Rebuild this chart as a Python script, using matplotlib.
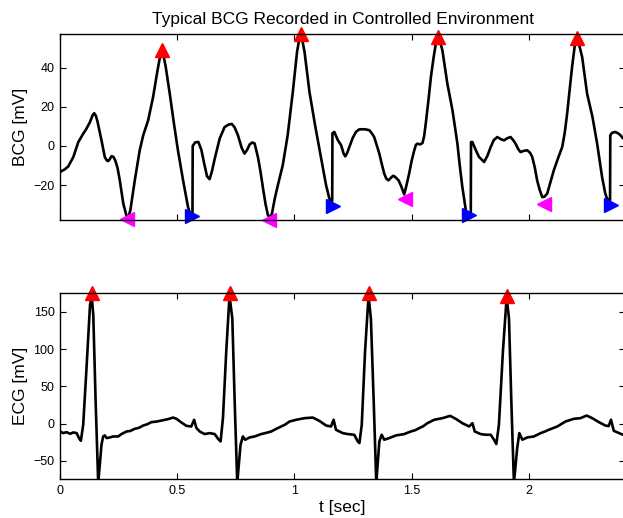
import numpy as np
import matplotlib
matplotlib.use("Agg")
import matplotlib.pyplot as plt

plt.rcParams["font.family"] = ["Liberation Sans", "DejaVu Sans"]

# BCG trace (t in sec, value in mV)
bcg_t = [0.000, 0.020, 0.035, 0.057, 0.078, 0.099, 0.113, 0.128, 0.140, 0.146,
         0.153, 0.160, 0.177, 0.191, 0.200, 0.206, 0.212, 0.220, 0.228, 0.236,
         0.245, 0.255, 0.270, 0.284, 0.292, 0.300, 0.319, 0.340, 0.355, 0.376,
         0.397, 0.416, 0.427, 0.434, 0.442, 0.451, 0.468, 0.486, 0.503, 0.525,
         0.546, 0.557, 0.565, 0.566, 0.576, 0.590, 0.603, 0.615, 0.627, 0.638,
         0.648, 0.660, 0.681, 0.702, 0.720, 0.733, 0.745, 0.759, 0.775, 0.787,
         0.798, 0.809, 0.820, 0.830, 0.844, 0.855, 0.866, 0.877, 0.887, 0.895,
         0.904, 0.916, 0.929, 0.950, 0.971, 0.993, 1.011, 1.020, 1.026, 1.033,
         1.043, 1.064, 1.088, 1.114, 1.135, 1.149, 1.158, 1.161, 1.162, 1.170,
         1.185, 1.199, 1.210, 1.217, 1.225, 1.234, 1.248, 1.262, 1.276, 1.291,
         1.305, 1.319, 1.330, 1.340, 1.352, 1.362, 1.372, 1.383, 1.392, 1.401,
         1.412, 1.420, 1.426, 1.435, 1.444, 1.455, 1.468, 1.476, 1.489, 1.500,
         1.511, 1.518, 1.525, 1.535, 1.546, 1.553, 1.560, 1.571, 1.582, 1.593,
         1.603, 1.614, 1.622, 1.631, 1.652, 1.674, 1.695, 1.705, 1.716, 1.731,
         1.742, 1.752, 1.753, 1.759, 1.773, 1.787, 1.809, 1.823, 1.837, 1.850,
         1.865, 1.880, 1.894, 1.908, 1.922, 1.933, 1.943, 1.954, 1.964, 1.978,
         1.993, 2.005, 2.014, 2.025, 2.035, 2.046, 2.057, 2.066, 2.078, 2.092,
         2.106, 2.125, 2.142, 2.153, 2.163, 2.175, 2.184, 2.195, 2.203, 2.212,
         2.227, 2.248, 2.271, 2.291, 2.312, 2.325, 2.333, 2.342, 2.346, 2.347,
         2.355, 2.369, 2.380, 2.391, 2.400]
bcg_v = [-13.3, -12.0, -10.5, -5.6, 2.0, 6.3, 8.9, 12.3, 16.0, 16.8,
         15.5, 12.5, 2.9, -5.6, -7.5, -7.7, -6.8, -5.2, -5.6, -7.5,
         -11.0, -17.6, -29.5, -36.0, -36.2, -33.0, -17.6, -2.2, 5.5, 13.2,
         25.1, 38.8, 46.0, 48.5, 46.0, 40.5, 26.9, 11.5, -2.2, -17.6,
         -31.3, -35.5, -36.0, 0.0, 1.8, 2.1, -2.0, -9.0, -15.5, -17.0,
         -13.0, -6.5, 3.8, 9.7, 11.0, 11.3, 9.5, 5.5, -1.0, -3.9,
         -2.0, 0.8, 1.8, 1.3, -5.6, -13.0, -21.8, -30.0, -35.5, -36.5,
         -34.7, -27.0, -20.2, -9.9, 5.5, 27.7, 48.2, 54.5, 56.5, 54.5,
         48.2, 27.7, 10.6, -6.5, -20.2, -27.0, -28.2, -28.0, 6.5, 7.2,
         3.0, 0.4, -4.0, -5.3, -3.5, -0.5, 4.0, 7.2, 8.5, 8.6,
         8.5, 8.1, 6.5, 4.6, 0.0, -3.9, -9.0, -14.2, -16.8, -17.6,
         -16.2, -15.3, -15.5, -16.5, -17.6, -20.5, -24.8, -21.0, -14.2, -7.5,
         -2.2, 0.6, 1.2, 0.8, 1.5, 5.0, 11.5, 23.0, 35.4, 45.0,
         52.5, 56.0, 53.0, 49.0, 32.0, 18.3, 1.2, -10.0, -21.0, -33.0,
         -36.0, -36.5, 2.0, 2.0, -2.0, -5.6, -8.2, -5.0, -0.5, 3.0,
         4.6, 3.5, 2.9, 4.0, 4.6, 3.0, 1.2, -1.5, -3.1, -2.5,
         -2.2, -3.5, -5.6, -11.0, -17.6, -22.5, -26.2, -26.0, -24.4, -18.5,
         -12.5, -6.0, -0.5, 7.0, 16.6, 30.0, 40.5, 51.0, 55.5, 53.0,
         45.6, 26.9, 14.9, 1.2, -15.9, -24.0, -27.0, -28.0, -28.0, 5.5,
         6.8, 7.2, 6.5, 5.5, 4.0]

# BCG fiducial points
bcg_peak_t = [0.434, 1.028, 1.614, 2.203]
bcg_peak_v = [49.0, 57.5, 56.0, 55.5]
bcg_onset_t = [0.284, 0.892, 1.471, 2.064]
bcg_onset_v = [-37.2, -38.0, -27.3, -29.5]
bcg_end_t = [0.562, 1.165, 1.745, 2.349]
bcg_end_v = [-36.0, -31.0, -35.5, -30.4]

# ECG trace
ecg_t = [0.000, 0.014, 0.028, 0.043, 0.057, 0.071, 0.081, 0.089, 0.099, 0.113,
         0.128, 0.135, 0.142, 0.152, 0.163, 0.177, 0.184, 0.191, 0.199, 0.213,
         0.227, 0.248, 0.262, 0.284, 0.300, 0.319, 0.335, 0.355, 0.372, 0.390,
         0.410, 0.433, 0.461, 0.482, 0.497, 0.518, 0.539, 0.560, 0.572, 0.582,
         0.596, 0.617, 0.638, 0.660, 0.674, 0.685, 0.695, 0.709, 0.723, 0.735,
         0.745, 0.756, 0.770, 0.780, 0.790, 0.809, 0.830, 0.858, 0.880, 0.901,
         0.920, 0.943, 0.960, 0.979, 1.007, 1.043, 1.078, 1.106, 1.135, 1.156,
         1.167, 1.177, 1.206, 1.227, 1.255, 1.270, 1.277, 1.287, 1.301, 1.316,
         1.326, 1.338, 1.349, 1.362, 1.372, 1.383, 1.404, 1.433, 1.468, 1.496,
         1.515, 1.532, 1.550, 1.567, 1.596, 1.631, 1.664, 1.688, 1.716, 1.745,
         1.759, 1.769, 1.794, 1.816, 1.837, 1.851, 1.861, 1.872, 1.889, 1.905,
         1.915, 1.925, 1.936, 1.950, 1.959, 1.972, 1.993, 2.021, 2.050, 2.070,
         2.085, 2.105, 2.121, 2.156, 2.191, 2.220, 2.246, 2.270, 2.298, 2.326,
         2.340, 2.350, 2.362, 2.400]
ecg_v = [-10.7, -12.9, -11.6, -13.8, -12.0, -12.9, -19.6, -23.2, -1.7, 74.0,
         159.0, 172.0, 145.7, 29.5, -80.0, -28.6, -17.4, -16.0, -19.6, -18.7,
         -17.4, -17.4, -14.2, -10.7, -10.0, -7.1, -6.0, -2.7, -1.0, 1.9,
         2.5, 4.0, 5.9, 8.0, 6.3, 1.3, -3.1, -4.0, 5.0, -6.2,
         -10.7, -14.2, -12.9, -14.2, -20.5, -24.1, 7.2, 96.5, 172.0, 141.0,
         29.5, -80.0, -28.6, -17.4, -21.8, -18.7, -17.4, -14.2, -12.5, -10.7,
         -7.5, -4.0, -1.5, 2.7, 5.0, 7.2, 8.0, 3.6, -2.7, -4.0,
         5.0, -8.4, -12.9, -14.2, -15.1, -24.1, -26.3, -1.7, 96.5, 172.0,
         141.0, 29.5, -80.0, -24.1, -15.1, -21.8, -19.6, -16.0, -14.2, -10.7,
         -9.0, -6.2, -3.5, 0.5, 5.0, 7.2, 10.3, 6.3, 0.5, -4.0,
         0.5, -10.7, -14.2, -15.1, -15.1, -21.8, -27.6, -1.7, 96.5, 170.0,
         141.0, 29.5, -80.0, -33.0, -12.9, -21.8, -18.7, -17.4, -12.9, -10.5,
         -8.4, -6.0, -4.0, 2.7, 6.3, 7.2, 10.7, 7.2, 1.9, -2.7,
         -3.5, 5.0, -9.8, -15.0]

ecg_peak_t = [0.135, 0.723, 1.316, 1.905]
ecg_peak_v = [175.0, 175.0, 175.0, 172.0]


def style_axes(ax):
    ax.tick_params(direction="in", length=4, width=0.8, top=True, right=True,
                   labelsize=9, pad=4)
    for s in ax.spines.values():
        s.set_linewidth(1.0)


def main():
    fig = plt.figure(figsize=(6.23, 5.18), dpi=100)
    ax1 = fig.add_axes([0.0963, 0.575, 0.907, 0.359])
    ax2 = fig.add_axes([0.0963, 0.0747, 0.907, 0.359])

    line_kw = dict(color="black", linewidth=1.9, solid_joinstyle="round",
                   solid_capstyle="round")

    ax1.plot(bcg_t, bcg_v, **line_kw)
    ax1.plot(bcg_peak_t, bcg_peak_v, "^", color="red", markersize=9.5, clip_on=False)
    ax1.plot(bcg_onset_t, bcg_onset_v, "<", color="magenta", markersize=9.5, clip_on=False)
    ax1.plot(bcg_end_t, bcg_end_v, ">", color="blue", markersize=9.5, clip_on=False)
    ax1.set_xlim(0, 2.41)
    ax1.set_ylim(-38, 57.3)
    ax1.set_yticks([-20, 0, 20, 40])
    ax1.set_xticks([0, 0.5, 1, 1.5, 2])
    ax1.set_xticklabels([])
    ax1.set_ylabel("BCG [mV]", fontsize=12.5, labelpad=4)
    ax1.set_title("Typical BCG Recorded in Controlled Environment", fontsize=12.5, pad=7)
    style_axes(ax1)

    ax2.plot(ecg_t, ecg_v, **line_kw)
    ax2.plot(ecg_peak_t, ecg_peak_v, "^", color="red", markersize=9.5, clip_on=False)
    ax2.set_xlim(0, 2.41)
    ax2.set_ylim(-75, 175)
    ax2.set_yticks([-50, 0, 50, 100, 150])
    ax2.set_xticks([0, 0.5, 1, 1.5, 2])
    ax2.set_xticklabels(["0", "0.5", "1", "1.5", "2"])
    ax2.set_ylabel("ECG [mV]", fontsize=12.5, labelpad=4)
    ax2.set_xlabel("t [sec]", fontsize=12.5, labelpad=2)
    style_axes(ax2)

    fig.savefig("out.png", dpi=100)
    plt.close(fig)


if __name__ == "__main__":
    main()
